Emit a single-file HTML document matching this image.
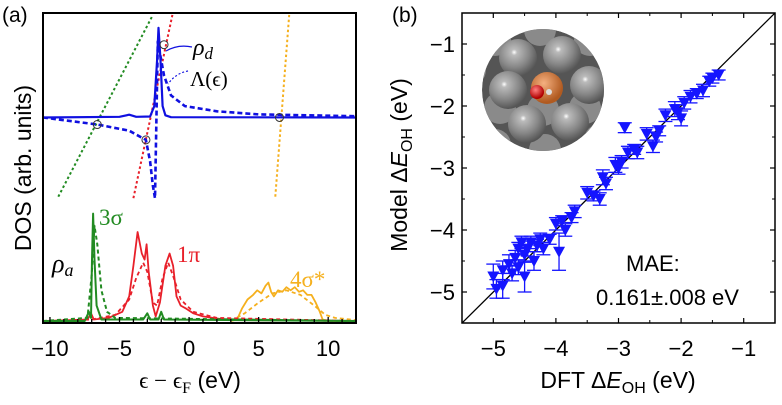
<!DOCTYPE html>
<html><head><meta charset="utf-8"><style>
html,body{margin:0;padding:0;background:#fff;}
svg{display:block;font-family:"Liberation Sans",sans-serif;}
</style></head><body>
<svg id="fig" width="782" height="405" viewBox="0 0 782 405">
<g id="pa"></g>
<g id="pb"></g>
</svg>
<script>
// ---- Panel (a) data: x in eV, DOS in arbitrary units ----
const rhoD=[[-10.5,66.3],[-5,66.5],[-4.3,67.2],[-3.8,66.5],[-2.8,66.6],[-2.5,70],[-2.3,85],[-2.2,95.5],[-2.05,85],[-1.9,70],[-1.7,67],[-1.3,66.4],[12,66.3]];
const lambdaE=[[-10.5,66.3],[-6.6,64],[-4.3,62],[-3.1,59],[-2.8,52],[-2.6,44],[-2.45,40],[-2.25,91],[-2.0,85],[-1.8,80],[-1.3,73.5],[-0.3,70],[2,68.3],[5,67.3],[12,66.7]];
const green3s=[[-10.5,0],[-7.5,0],[-7.2,3],[-7.05,1],[-6.98,20],[-6.9,35],[-6.8,20],[-6.65,5],[-6.3,0.5],[-3.3,0.5],[-3.0,2.5],[-2.8,0.5],[-2.2,0.5],[-2.0,3],[-1.8,0.5],[12,0]];
const green3sDot=[[-10.5,0],[-7.3,1],[-7.0,15],[-6.8,31],[-6.6,25],[-6.3,10],[-5.9,3],[-5.3,1],[12,0]];
const red1p=[[-10.5,0],[-7.3,0.5],[-7.05,2.5],[-6.85,0.5],[-5.8,1],[-5.3,2],[-4.8,3],[-4.3,8],[-4.0,18],[-3.7,29],[-3.4,22],[-3.2,20],[-3.05,25],[-2.9,16],[-2.6,5],[-2.4,1.5],[-2.1,6],[-1.7,18],[-1.4,22],[-1.15,18],[-0.9,8],[-0.6,5],[-0.2,4],[0.3,2.5],[1,1.5],[2,0.8],[3,0.3],[12,0]];
const red1pDot=[[-10.5,0],[-7,0.5],[-5.3,2],[-4.3,7],[-3.8,14],[-3.3,19],[-3.0,16],[-2.6,6],[-2.3,5],[-1.9,14],[-1.5,19],[-1.1,14],[-0.6,7],[0.3,3],[2,1],[12,0]];
const orange4s=[[3,0],[3.45,0.5],[3.8,4],[4.2,7],[4.6,8.5],[4.9,10],[5.2,9],[5.5,11.5],[5.7,12.5],[5.9,9.5],[6.1,8],[6.4,10],[6.7,9.5],[7.0,11],[7.3,10],[7.6,11],[7.9,9.5],[8.2,10],[8.5,8.5],[8.8,8.5],[9.1,6],[9.4,3],[9.6,0.5],[10,0],[12,0]];
const orange4sDot=[[3,0],[4,2.5],[5,6],[6,9],[7,10],[8,8.5],[9,5],[9.8,2],[10.5,1],[12,0.3]];
const lineGreen=[[-9.4,40.5],[-2.6,99.7]];
const lineRed=[[-4,40],[-1.2,99.7]];
const lineOrange=[[6.2,40.5],[7.2,99.7]];
const circlesA=[[-6.6,64],[-3.1,59],[-1.8,90],[6.5,66.3]];
const ticksA=[-10,-5,0,5,10];
// ---- Panel (b) data ----
const dftX=[-5.0,-4.95,-4.85,-4.85,-4.75,-4.7,-4.65,-4.6,-4.6,-4.55,-4.5,-4.5,-4.45,-4.4,-4.35,-4.3,-4.25,-4.2,-4.1,-4.0,-3.95,-3.9,-3.85,-3.75,-3.7,-3.5,-3.4,-3.3,-3.25,-3.2,-3.05,-3.0,-2.95,-2.9,-2.85,-2.75,-2.7,-2.55,-2.45,-2.4,-2.35,-2.25,-2.1,-2.05,-2.0,-1.95,-1.85,-1.75,-1.65,-1.55,-1.5,-1.4];
const modelY=[-4.75,-4.95,-4.9,-4.65,-4.55,-4.7,-4.45,-4.6,-4.3,-4.2,-4.75,-4.4,-4.3,-4.2,-4.5,-4.25,-4.15,-4.3,-4.15,-3.9,-4.35,-3.85,-4.0,-3.8,-3.7,-3.4,-3.45,-3.5,-3.15,-3.25,-2.95,-3.0,-2.9,-2.35,-2.75,-2.7,-2.75,-2.45,-2.65,-2.5,-2.4,-2.15,-2.05,-2.1,-2.2,-1.95,-1.85,-1.8,-1.75,-1.6,-1.55,-1.5];
const errY=[0.2,0.15,0.2,0.15,0.15,0.12,0.12,0.12,0.1,0.1,0.25,0.12,0.12,0.1,0.15,0.1,0.1,0.1,0.08,0.1,0.3,0.08,0.1,0.08,0.1,0.1,0.08,0.1,0.12,0.1,0.12,0.1,0.1,0.08,0.1,0.08,0.1,0.1,0.1,0.08,0.08,0.1,0.12,0.12,0.12,0.1,0.1,0.08,0.1,0.08,0.08,0.08];
const ticksB=[-5,-4,-3,-2,-1];

const NS="http://www.w3.org/2000/svg";
function mk(parent,tag,attrs,txt){const e=document.createElementNS(NS,tag);for(const k in attrs)e.setAttribute(k,attrs[k]);if(txt!==undefined)e.textContent=txt;parent.appendChild(e);return e;}

// Panel a
const pa=document.getElementById('pa');
const AL=43,AR=356,AT=13,AB=323;
const ax=x=>AL+(x+10.5)/22.5*(AR-AL);
const ay=v=>321-v*3.07;
const pathOf=(pts)=>pts.map((p,i)=>(i?'L':'M')+ax(p[0]).toFixed(1)+','+ay(p[1]).toFixed(1)).join('');
mk(pa,'defs',{}).innerHTML='<clipPath id="ca"><rect x="43" y="13" width="313" height="310"/></clipPath>';
const g=mk(pa,'g',{'clip-path':'url(#ca)'});
function curve(pts,color,dash,w,name){const e=mk(g,'path',{d:pathOf(pts),fill:'none',stroke:color,'stroke-width':w,'stroke-dasharray':dash||'none','stroke-linejoin':'round'});}
curve(lineGreen,'#228b22','2.5,2.5',2,'green-dotted-line');
curve(lineRed,'#e8202a','2.5,2.5',2,'red-dotted-line');
curve(lineOrange,'#f5b01e','2.5,2.5',2,'orange-dotted-line');
curve(orange4sDot,'#f5b01e','4,3',1.8,'orange-4sigma-dotted');
curve(orange4s,'#f5b01e','',1.8,'orange-4sigma-curve');
curve(red1pDot,'#e8202a','4,3',1.8,'red-1pi-dotted');
curve(red1p,'#e8202a','',1.8,'red-1pi-curve');
curve(green3sDot,'#228b22','4,3',2,'green-3sigma-dotted');
curve(green3s,'#228b22','',2,'green-3sigma-curve');
curve(lambdaE,'#1010e0','5,3',2.6,'lambda-dashed-curve');
curve(rhoD,'#1010e0','',2.2,'rho-d-curve');
circlesA.forEach(c=>{const e=mk(g,'circle',{cx:ax(c[0]),cy:ay(c[1]),r:4,fill:'none',stroke:'#333','stroke-width':1});});
mk(pa,'rect',{x:AL,y:AT,width:AR-AL,height:AB-AT,fill:'none',stroke:'#000','stroke-width':2,});
for(let t=-10;t<=12;t++){const x=ax(t);const L=(t%5===0)?6:4;mk(pa,'line',{x1:x,y1:AB,x2:x,y2:AB-L,stroke:'#000','stroke-width':1.3});}
ticksA.forEach(t=>{const x=ax(t);
const tl=mk(pa,'text',{x:x,y:356,'font-size':22,'text-anchor':'middle'},String(t).replace('-','−'));});
mk(pa,'text',{x:2,y:22,'font-size':21,},'(a)');
mk(pa,'text',{x:0,y:0,'font-size':23,'text-anchor':'middle',transform:'translate(31,168) rotate(-90)',},'DOS (arb. units)');
mk(pa,'text',{x:190,y:388,'font-size':23,'text-anchor':'middle','font-family':'Liberation Serif, serif',}).innerHTML='ϵ − ϵ<tspan font-size="16" dy="5">F</tspan><tspan dy="-5" font-family="Liberation Sans"> (eV)</tspan>';
mk(pa,'text',{x:193,y:55,'font-size':24,'font-style':'italic','font-family':'Liberation Serif, serif',}).innerHTML='ρ<tspan font-size="17" dy="4">d</tspan>';
mk(pa,'text',{x:190,y:86,'font-size':21,'font-family':'Liberation Serif, serif',},'Λ(ϵ)');
mk(pa,'path',{d:'M192,47 Q178,44 166,51',fill:'none',stroke:'#1010e0','stroke-width':1.2});
mk(pa,'path',{d:'M188,71 Q176,73 168,84',fill:'none',stroke:'#1010e0','stroke-width':1.2,'stroke-dasharray':'2,2'});
mk(pa,'text',{x:99,y:225,'font-size':23,'fill':'#228b22','font-family':'Liberation Serif, serif',},'3σ');
mk(pa,'text',{x:52,y:272,'font-size':26,'font-style':'italic','font-family':'Liberation Serif, serif',}).innerHTML='ρ<tspan font-size="18" dy="4">a</tspan>';
mk(pa,'text',{x:177,y:262,'font-size':23,'fill':'#e8202a','font-family':'Liberation Serif, serif',},'1π');
mk(pa,'text',{x:290,y:287,'font-size':23,'fill':'#f5b01e','font-family':'Liberation Serif, serif',},'4σ*');

// Panel b
const pb=document.getElementById('pb');
const BL=462,BR=775,BT=13,BB=323;
const bx=x=>BL+(x+5.5)/5*(BR-BL);
const by=y=>BT+(-0.5-y)/5*(BB-BT);
mk(pb,'defs',{}).innerHTML='<clipPath id="cb"><rect x="462" y="13" width="313" height="310"/></clipPath><radialGradient id="ball" cx="0.4" cy="0.35" r="0.65"><stop offset="0" stop-color="#fff"/><stop offset="0.12" stop-color="#bbb"/><stop offset="0.6" stop-color="#888"/><stop offset="1" stop-color="#555"/></radialGradient><radialGradient id="cu" cx="0.4" cy="0.35" r="0.6"><stop offset="0" stop-color="#f5b080"/><stop offset="1" stop-color="#b05a20"/></radialGradient><radialGradient id="ox" cx="0.4" cy="0.35" r="0.6"><stop offset="0" stop-color="#ff8080"/><stop offset="1" stop-color="#b00000"/></radialGradient><clipPath id="ci"><circle cx="543" cy="90" r="61"/></clipPath>';
const gb=mk(pb,'g',{'clip-path':'url(#cb)'});
mk(gb,'line',{x1:bx(-5.5),y1:by(-5.5),x2:bx(-0.5),y2:by(-0.5),stroke:'#000','stroke-width':1.3,});
dftX.forEach((x,i)=>{
 const cx=bx(x),cy=by(modelY[i]),e=errY[i];
 const eg=mk(gb,'g',{stroke:'#1515ff','stroke-width':1.3});
 
 
 mk(eg,'line',{x1:cx,y1:by(modelY[i]+e),x2:cx,y2:by(modelY[i]-e)});
 mk(eg,'line',{x1:cx-7,y1:by(modelY[i]+e),x2:cx+7,y2:by(modelY[i]+e)});
 mk(eg,'line',{x1:cx-7,y1:by(modelY[i]-e),x2:cx+7,y2:by(modelY[i]-e)});
 const p=mk(gb,'path',{d:`M${cx-6},${cy-5}L${cx+6},${cy-5}L${cx},${cy+6}Z`,fill:'#1515ff'});
 
 
});
// inset
const ins=mk(pb,'g',{'clip-path':'url(#ci)',});
mk(ins,'circle',{cx:543,cy:90,r:61,fill:'#555'});
[[495,40],[540,30],[590,40],[500,108],[585,108],[545,150],[495,145],[600,140],[470,70],[620,70],[543,110]].forEach(p=>mk(ins,'circle',{cx:p[0],cy:p[1],r:16,fill:'#8a8a8a'}));
[[518,58],[562,55],[508,90],[589,85],[527,124],[570,122]].forEach(p=>mk(ins,'circle',{cx:p[0],cy:p[1],r:19,fill:'url(#ball)'}));
mk(ins,'circle',{cx:547,cy:88,r:16,fill:'url(#cu)'});
mk(ins,'circle',{cx:537,cy:92,r:7,fill:'url(#ox)'});
mk(ins,'circle',{cx:549,cy:92,r:3,fill:'#ddd'});
mk(pb,'rect',{x:BL,y:BT,width:BR-BL,height:BB-BT,fill:'none',stroke:'#000','stroke-width':1.5,});
ticksB.forEach(t=>{
 const x=bx(t),y=by(t);
 mk(pb,'line',{x1:x,y1:BB,x2:x,y2:BB-5,stroke:'#000','stroke-width':1.2});
 mk(pb,'line',{x1:x,y1:BT,x2:x,y2:BT+5,stroke:'#000','stroke-width':1.2});
 mk(pb,'line',{x1:BL,y1:y,x2:BL+5,y2:y,stroke:'#000','stroke-width':1.2});
 mk(pb,'line',{x1:BR,y1:y,x2:BR-5,y2:y,stroke:'#000','stroke-width':1.2});
 const xl=mk(pb,'text',{x:x,y:356,'font-size':22,'text-anchor':'middle'},String(t).replace('-','−'));
 
 
 const yl=mk(pb,'text',{x:BL-7,y:y+8,'font-size':22,'text-anchor':'end'},String(t).replace('-','−'));
 
 
});
[-4.5,-3.5,-2.5,-1.5].forEach(t=>{mk(pb,'line',{x1:bx(t),y1:BB,x2:bx(t),y2:BB-3,stroke:'#000'});mk(pb,'line',{x1:bx(t),y1:BT,x2:bx(t),y2:BT+3,stroke:'#000'});mk(pb,'line',{x1:BL,y1:by(t),x2:BL+3,y2:by(t),stroke:'#000'});mk(pb,'line',{x1:BR,y1:by(t),x2:BR-3,y2:by(t),stroke:'#000'});});
mk(pb,'text',{x:392,y:22,'font-size':21,},'(b)');
mk(pb,'text',{x:0,y:0,'font-size':23,'text-anchor':'middle',transform:'translate(407,165) rotate(-90)',}).innerHTML='Model Δ<tspan font-style="italic">E</tspan><tspan font-size="16" dy="5">OH</tspan><tspan dy="-5"> (eV)</tspan>';
mk(pb,'text',{x:618,y:388,'font-size':23,'text-anchor':'middle',}).innerHTML='DFT Δ<tspan font-style="italic">E</tspan><tspan font-size="16" dy="5">OH</tspan><tspan dy="-5"> (eV)</tspan>';
mk(pb,'text',{x:626,y:271,'font-size':22,},'MAE:');
mk(pb,'text',{x:596,y:305,'font-size':22,},'0.161±.008 eV');
</script>
</body></html>
